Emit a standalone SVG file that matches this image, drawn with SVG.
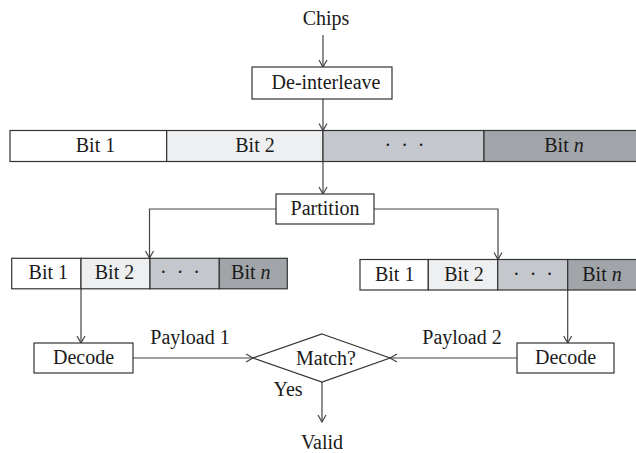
<svg xmlns="http://www.w3.org/2000/svg" width="636" height="453" viewBox="0 0 636 453">
<style>
text{font-family:"Liberation Serif","Times New Roman",serif;font-size:20px;fill:#1a1a1a;text-anchor:middle}
.box{fill:#fff;stroke:#333;stroke-width:1.2}
.c1{fill:#fff;stroke:#333;stroke-width:1.2}
.c2{fill:#eeeff0;stroke:#333;stroke-width:1.2}
.c3{fill:#c4c8cd;stroke:#333;stroke-width:1.2}
.c4{fill:#a1a5a9;stroke:#333;stroke-width:1.2}
.ln{fill:none;stroke:#444;stroke-width:1.2;marker-end:url(#ah)}
.it{font-style:italic}
</style>
<defs>
<marker id="ah" markerUnits="userSpaceOnUse" markerWidth="12" markerHeight="12" viewBox="-8 -6 10 12" refX="0" refY="0" orient="auto">
<path d="M-7,-4 L0,0 L-7,4" fill="none" stroke="#444" stroke-width="1.2"/>
</marker>
</defs>
<g id="connectors">
<line class="ln" x1="323" y1="35" x2="323" y2="67"/>
<line class="ln" x1="323" y1="99" x2="323" y2="130.5"/>
<line class="ln" x1="323" y1="161.5" x2="323" y2="194"/>
<polyline class="ln" points="276,209 149.5,209 149.5,258"/>
<polyline class="ln" points="374,209 498,209 498,259.5"/>
<line class="ln" x1="81" y1="288" x2="81" y2="343"/>
<line class="ln" x1="567.7" y1="289.5" x2="567.7" y2="343"/>
<line class="ln" x1="133" y1="358" x2="253" y2="358"/>
<line class="ln" x1="517" y1="358" x2="390" y2="358"/>
<line class="ln" x1="322" y1="382" x2="322" y2="422"/>
</g>
<g id="chips"><text x="326" y="25">Chips</text></g>
<g id="deinterleave"><rect class="box" x="252" y="67" width="140" height="32"/><text x="326" y="89">De-interleave</text></g>
<g id="mainbar">
<rect class="c1" x="10" y="130.5" width="156.7" height="31"/>
<rect class="c2" x="166.7" y="130.5" width="156.3" height="31"/>
<rect class="c3" x="323" y="130.5" width="161" height="31"/>
<rect class="c4" x="484" y="130.5" width="160" height="31"/>
<text x="95.5" y="152">Bit 1</text>
<text x="255" y="152">Bit 2</text>
<text x="404.5" y="152">·&#8194;·&#8194;·</text>
<text x="564" y="152">Bit <tspan class="it">n</tspan></text>
</g>
<g id="partition"><rect class="box" x="276" y="194" width="98" height="30"/><text x="325" y="215">Partition</text></g>
<g id="leftbar">
<rect class="c1" x="11.7" y="258.3" width="69.3" height="30.5"/>
<rect class="c2" x="81" y="258.3" width="69" height="30.5"/>
<rect class="c3" x="150" y="258.3" width="69.3" height="30.5"/>
<rect class="c4" x="219.3" y="258.3" width="68" height="30.5"/>
<text x="48.3" y="279">Bit 1</text>
<text x="114.5" y="279">Bit 2</text>
<text x="180" y="279">·&#8194;·&#8194;·</text>
<text x="250.8" y="279">Bit <tspan class="it">n</tspan></text>
</g>
<g id="rightbar">
<rect class="c1" x="360" y="259.5" width="68.3" height="30.5"/>
<rect class="c2" x="428.3" y="259.5" width="69.4" height="30.5"/>
<rect class="c3" x="497.7" y="259.5" width="70" height="30.5"/>
<rect class="c4" x="567.7" y="259.5" width="75" height="30.5"/>
<text x="394.7" y="280.5">Bit 1</text>
<text x="464" y="280.5">Bit 2</text>
<text x="533" y="280.5">·&#8194;·&#8194;·</text>
<text x="602" y="280.5">Bit <tspan class="it">n</tspan></text>
</g>
<g id="decode1"><rect class="box" x="34" y="343" width="99" height="30"/><text x="83.5" y="364">Decode</text></g>
<g id="decode2"><rect class="box" x="517" y="343" width="97" height="30"/><text x="565.5" y="364">Decode</text></g>
<g id="match"><polygon class="box" points="322,334 390,358 322,382 253,358"/><text x="326" y="365">Match?</text></g>
<g id="labels">
<text x="190" y="344">Payload 1</text>
<text x="462" y="344">Payload 2</text>
<text x="288" y="396">Yes</text>
<text x="322" y="449">Valid</text>
</g>
</svg>
